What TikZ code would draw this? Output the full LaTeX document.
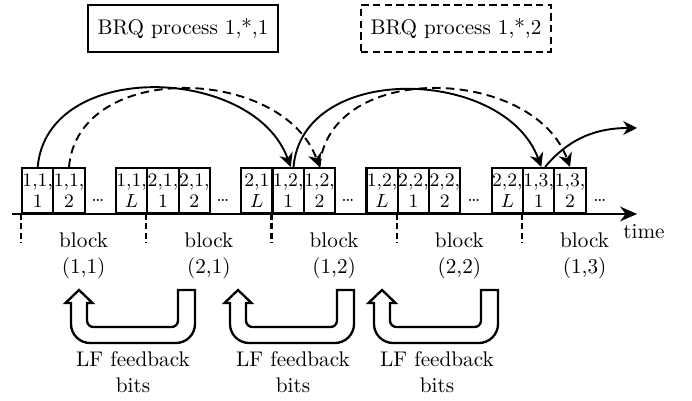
\documentclass[tikz,border=0pt]{standalone}
\usepackage{tikz}
\usetikzlibrary{arrows.meta}
\def\feedbackarrow(#1,#2){\draw[fbline] ({#2+8.5},-290) [rounded corners=9pt] -- ({#2+8.5},-343) -- ({#1-8},-343) [sharp corners] -- ({#1-8},-303) -- ({#1-13.5},-303) -- (#1,-290) -- ({#1+13.5},-303) -- ({#1+8},-303) [rounded corners=3pt] -- ({#1+8},-327) -- ({#2-8.5},-327) [sharp corners] -- ({#2-8.5},-290) -- cycle;}

\begin{document}
\begin{tikzpicture}[x=0.472pt, y=0.472pt,
		slot/.style={draw, line width=1pt, inner sep=0pt, minimum width=14.77pt, minimum height=21.2pt, anchor=south west, font=\small, align=center},
		legend/.style={draw, line width=1.1pt, minimum width=89.7pt, minimum height=22.2pt},
		hop/.style={line width=0.9pt, -{Stealth[length=6.5pt,width=6.5pt]}},
		hopdash/.style={hop, dash pattern=on 4pt off 2.5pt},
		jump/.style={out=85, in=110, looseness=1.1},
		tickmark/.style={line width=1pt, dash pattern=on 2.8pt off 1.6pt},
		fbline/.style={line width=1.1pt}]
		%%%%% START %%%%%
		
		\useasboundingbox (0,0) rectangle (692,-401);
		
		\node[legend] (brq1) at (183,-28.5) {BRQ process 1,*,1};
		\node[legend, dash pattern=on 3.5pt off 2pt] (brq2) at (456,-28.5) {BRQ process 1,*,2};
		
		\node[slot] (b111) at (21,-214) {1,1,\\[-1.1pt]1};
		\node[slot] (b112) at (52.3,-214) {1,1,\\[-1.1pt]2};
		\node (d1) at (98,-200) {\small\ldots};
		\node[slot] (b11L) at (114.95,-214) {1,1,\\[-1.1pt]$L$};
		
		\node[slot] (b211) at (146.25,-214) {2,1,\\[-1.1pt]1};
		\node[slot] (b212) at (177.55,-214) {2,1,\\[-1.1pt]2};
		\node (d2) at (223,-200) {\small\ldots};
		\node[slot] (b21L) at (240.2,-214) {2,1\\[-1.1pt]$L$};
		
		\node[slot] (b121) at (271.5,-214) {1,2,\\[-1.1pt]1};
		\node[slot] (b122) at (302.8,-214) {1,2,\\[-1.1pt]2};
		\node (d3) at (348,-200) {\small\ldots};
		\node[slot] (b12L) at (365.45,-214) {1,2,\\[-1.1pt]$L$};
		
		\node[slot] (b221) at (396.75,-214) {2,2,\\[-1.1pt]1};
		\node[slot] (b222) at (428.05,-214) {2,2,\\[-1.1pt]2};
		\node (d4) at (474,-200) {\small\ldots};
		\node[slot] (b22L) at (490.7,-214) {2,2,\\[-1.1pt]$L$};
		
		\node[slot] (b131) at (522,-214) {1,3,\\[-1.1pt]1};
		\node[slot] (b132) at (553.3,-214) {1,3,\\[-1.1pt]2};
		\node (d5) at (600,-200) {\small\ldots};
		
		% time axis
		\coordinate (t0) at (12,-214);
		\coordinate (t1) at (637,-214);
		\draw[line width=1pt, -{Stealth[length=8pt,width=7pt]}] (t0) -- (t1);
		\node (tm) at (644,-232) {time};
		
		\draw[tickmark] (b111.south west) -- ++(0,-29);
		\draw[tickmark] (b211.south west) -- ++(0,-29);
		\draw[tickmark] (b121.south west) -- ++(0,-29);
		\draw[tickmark] (b221.south west) -- ++(0,-29);
		\draw[tickmark] (b131.south west) -- ++(0,-29);
		
		\node[align=center] (blk11) at (83.6,-256) {block\\(1,1)};
		\node[align=center] (blk21) at (208.9,-256) {block\\(2,1)};
		\node[align=center] (blk12) at (334.1,-256) {block\\(1,2)};
		\node[align=center] (blk22) at (459.4,-256) {block\\(2,2)};
		\node[align=center] (blk13) at (584.6,-256) {block\\(1,3)};
		
		% retransmission hops
		\draw[hop, jump] (b111.north) to ([xshift=1.2pt]b121.north);
		\draw[hopdash, jump] (b112.north) to (b122.north);
		\draw[hop, jump] ([xshift=2.5pt]b121.north) to ([xshift=1.2pt]b131.north);
		\draw[hopdash, jump] (b122.north) to (b132.north);
		\coordinate (out3) at (637,-128);
		\draw[hop, out=50, in=180] ([xshift=3pt]b131.north) to (out3);
		
		% feedback
		\feedbackarrow(79,186.5)
		\feedbackarrow(238,345.5)
		\feedbackarrow(382,489.5)
		\node[align=center] (lf1) at (133,-372) {LF feedback\\bits};
		\node[align=center] (lf2) at (293,-372) {LF feedback\\bits};
		\node[align=center] (lf3) at (437,-372) {LF feedback\\bits};
		
		%%%%% END %%%%%
	\end{tikzpicture}
\end{document}
